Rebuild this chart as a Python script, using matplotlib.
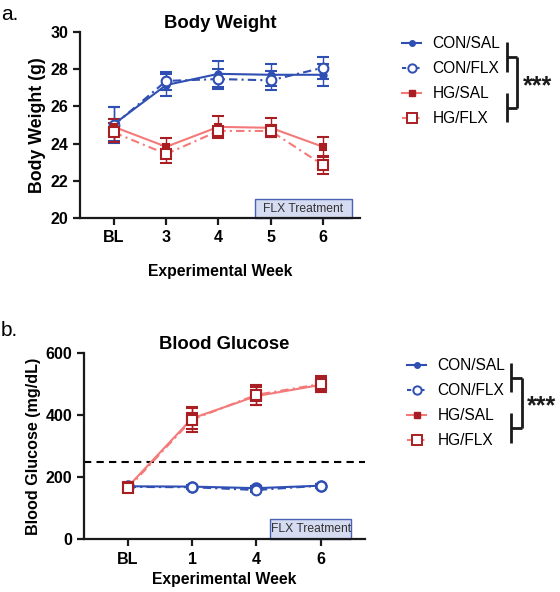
import numpy as np
import matplotlib
matplotlib.use("Agg")
import matplotlib.pyplot as plt
from matplotlib.lines import Line2D
from matplotlib.patches import Rectangle

plt.rcParams["font.family"] = ["Liberation Sans", "DejaVu Sans"]

# ---- data ----
bw_weeks = ["BL", "3", "4", "5", "6"]
bw_con_sal = [25.05, 27.15, 27.75, 27.7, 27.7]
bw_con_sal_err = [0.9, 0.6, 0.7, 0.6, 0.6]
bw_con_flx = [25.0, 27.37, 27.47, 27.4, 28.08]
bw_con_flx_err = [0.95, 0.5, 0.55, 0.5, 0.6]
bw_hg_sal = [24.9, 23.83, 24.9, 24.85, 23.83]
bw_hg_sal_err = [0.4, 0.45, 0.6, 0.5, 0.55]
bw_hg_flx = [24.6, 23.44, 24.68, 24.68, 22.85]
bw_hg_flx_err = [0.5, 0.5, 0.2, 0.3, 0.5]

bg_weeks = ["BL", "1", "4", "6"]
bg_con_sal = [170, 169, 164, 172]
bg_con_sal_err = [8, 6, 6, 6]
bg_con_flx = [168, 167, 158, 172]
bg_con_flx_err = [8, 6, 6, 6]
bg_hg_sal = [168, 389, 461, 497]
bg_hg_sal_err = [10, 35, 30, 22]
bg_hg_flx = [163, 385, 465, 500]
bg_hg_flx_err = [10, 40, 33, 25]

labels = ["CON/SAL", "CON/FLX", "HG/SAL", "HG/FLX"]

BLUE = "#2f4fb3"
SALMON = "#f47a7a"
DRED = "#a81e22"
DASHDOT = (0, (4, 2, 1, 2))

W, H = 560, 592
fig = plt.figure(figsize=(W / 100, H / 100), dpi=100)


def px(x, y):
    # pixel coords (from top-left) -> figure fraction
    return x / W, 1 - y / H


def style_axes(ax):
    for s in ["top", "right"]:
        ax.spines[s].set_visible(False)
    for s in ["left", "bottom"]:
        ax.spines[s].set_linewidth(1.6)
        ax.spines[s].set_color("#1a1a1a")
    ax.tick_params(width=1.6, length=5, labelsize=11.5, color="#1a1a1a")
    for t in ax.get_xticklabels() + ax.get_yticklabels():
        t.set_fontweight("bold")


def draw_series(ax, ys, errs, sizes):
    x = np.arange(len(ys[0]))
    specs = [
        dict(color=BLUE, ls="-", marker="o", mfc=BLUE, mec=BLUE, ec=BLUE),
        dict(color=BLUE, ls=DASHDOT, marker="o", mfc="white", mec=BLUE, ec=BLUE),
        dict(color=SALMON, ls="-", marker="s", mfc=DRED, mec=DRED, ec=DRED),
        dict(color=SALMON, ls=DASHDOT, marker="s", mfc="white", mec=DRED, ec=DRED),
    ]
    for y, e, sp, ms in zip(ys, errs, specs, sizes):
        ax.errorbar(x, y, yerr=e, color=sp["color"], ls=sp["ls"], lw=1.5,
                    marker=sp["marker"], ms=ms, mfc=sp["mfc"], mec=sp["mec"],
                    mew=1.5, ecolor=sp["ec"], elinewidth=1.0, capsize=4,
                    capthick=1.0, zorder=3)


def flx_box(ax, x0, x1, y0, h):
    ax.add_patch(Rectangle((x0, y0), x1 - x0, h, facecolor="#d5dbf0",
                           edgecolor="#4b62b5", lw=1.0, zorder=2, clip_on=False))
    ax.text((x0 + x1) / 2, y0 + h / 2, "FLX Treatment", ha="center",
            va="center", fontsize=8.7, color="#333333", zorder=4)


def legend_block(ax, x0, y0):
    handles = [
        Line2D([], [], color=BLUE, ls="-", marker="o", ms=4, mfc=BLUE, mec=BLUE, lw=1.5),
        Line2D([], [], color=BLUE, ls=(0, (2, 1.2)), marker="o", ms=6, mfc="white", mec=BLUE, mew=1.4, lw=1.5),
        Line2D([], [], color=SALMON, ls="-", marker="s", ms=5, mfc=DRED, mec=DRED, lw=1.5),
        Line2D([], [], color=SALMON, ls=(0, (2, 1.2)), marker="s", ms=6.5, mfc="white", mec=DRED, mew=1.4, lw=1.5),
    ]
    bx, by = px(x0, y0)
    ax.legend(handles, labels, loc="upper left", bbox_to_anchor=(bx, by),
              bbox_transform=fig.transFigure, frameon=False, fontsize=11.2,
              handlelength=1.25, handletextpad=0.7, labelspacing=0.65,
              borderpad=0, borderaxespad=0)


def bracket(x_in, x_out, y1a, y1b, y2a, y2b, star_x, star_y):
    kw = dict(color="#1a1a1a", lw=2.0, solid_capstyle="butt")
    mid1 = (y1a + y1b) / 2
    mid2 = (y2a + y2b) / 2
    segs = [
        [(x_in, y1a), (x_in, y1b)],
        [(x_in, y2a), (x_in, y2b)],
        [(x_in, mid1), (x_out, mid1)],
        [(x_in, mid2), (x_out, mid2)],
        [(x_out, mid1), (x_out, mid2)],
    ]
    for s in segs:
        (a, b), (c, d) = px(*s[0]), px(*s[1])
        fig.add_artist(Line2D([a, c], [b, d], **kw))
    sx, sy = px(star_x, star_y)
    fig.text(sx, sy, "***", fontsize=18, fontweight="bold", va="center",
             ha="left", color="#1a1a1a")


# ---- panel a: body weight ----
ax1 = fig.add_axes([80 / W, 1 - 218 / H, 280 / W, 186 / H])
draw_series(ax1, [bw_con_sal, bw_con_flx, bw_hg_sal, bw_hg_flx],
            [bw_con_sal_err, bw_con_flx_err, bw_hg_sal_err, bw_hg_flx_err],
            [4.5, 7, 5, 7])
ax1.set_xlim(-0.65, 4.71)
ax1.set_ylim(20, 30)
ax1.set_yticks([20, 22, 24, 26, 28, 30])
ax1.set_xticks(range(len(bw_weeks)))
ax1.set_xticklabels(bw_weeks)
ax1.tick_params(axis="x", pad=4)
flx_box(ax1, 2.70, 4.55, 20, 1.02)
style_axes(ax1)
ax1.set_title("Body Weight", fontsize=13.3, fontweight="bold", pad=3)
ax1.set_ylabel("Body Weight (g)", fontsize=12.8, fontweight="bold", labelpad=3)
ax1.set_xlabel("Experimental Week", fontsize=11.3, fontweight="bold", labelpad=13)
legend_block(ax1, 402, 36)
bracket(507, 517, 42, 72, 93, 122, 523, 86)
fig.text(*px(1, 14), "a.", fontsize=15, va="center", ha="left")

# ---- panel b: blood glucose ----
ax2 = fig.add_axes([84 / W, 1 - 539 / H, 281 / W, 186 / H])
draw_series(ax2, [bg_con_sal, bg_con_flx, bg_hg_sal, bg_hg_flx],
            [bg_con_sal_err, bg_con_flx_err, bg_hg_sal_err, bg_hg_flx_err],
            [7.5, 7, 6.5, 7.5])
ax2.axhline(250, color="black", ls=(0, (3.5, 2.5)), lw=1.5, zorder=1)
ax2.set_xlim(-0.68, 3.69)
ax2.set_ylim(0, 600)
ax2.set_yticks([0, 200, 400, 600])
ax2.set_xticks(range(len(bg_weeks)))
ax2.set_xticklabels(bg_weeks)
ax2.tick_params(axis="x", pad=4)
flx_box(ax2, 2.21, 3.48, 0, 64)
style_axes(ax2)
ax2.set_title("Blood Glucose", fontsize=13.3, fontweight="bold", pad=2)
ax2.set_ylabel("Blood Glucose (mg/dL)", fontsize=11.6, fontweight="bold", labelpad=3)
ax2.set_xlabel("Experimental Week", fontsize=11.3, fontweight="bold", labelpad=4)
legend_block(ax2, 407, 358)
bracket(511, 522, 363, 392, 413, 443, 527, 406)
fig.text(*px(1, 330), "b.", fontsize=15, va="center", ha="left")

fig.savefig("out.png", dpi=100)
